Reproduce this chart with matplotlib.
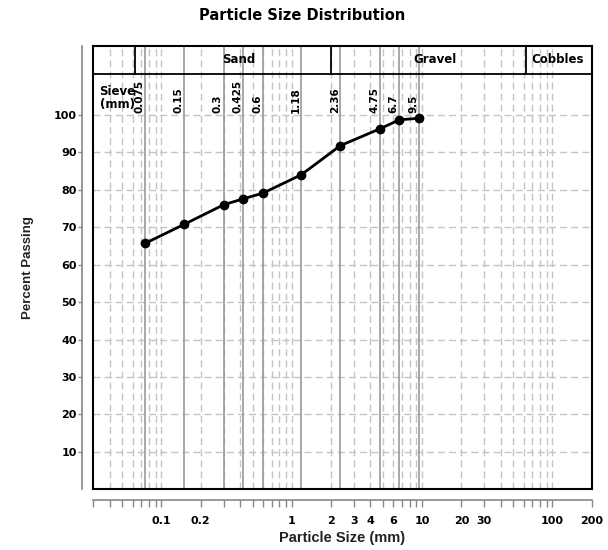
import matplotlib
matplotlib.use('Agg')
import matplotlib.pyplot as plt
import numpy as np

# sieve data
sieve_mm = [0.075, 0.15, 0.3, 0.425, 0.6, 1.18, 2.36, 4.75, 6.7, 9.5]
sieve_labels = ['0.075', '0.15', '0.3', '0.425', '0.6', '1.18', '2.36', '4.75', '6.7', '9.5']
percent_passing = [65.7, 70.8, 76.0, 77.6, 79.1, 84.0, 91.8, 96.3, 98.7, 99.1]

# soil classes (BS limits)
class_bounds = [0.063, 2, 63]
class_names = ['Sand', 'Gravel', 'Cobbles']
class_label_x = [0.39, 12.6, 110]

xtick_vals = [0.1, 0.2, 1, 2, 3, 4, 6, 10, 20, 30, 100, 200]
xtick_labels = ['0.1', '0.2', '1', '2', '3', '4', '6', '10', '20', '30', '100', '200']
ytick_vals = [10, 20, 30, 40, 50, 60, 70, 80, 90, 100]

xmin, xmax = 0.03, 200
ymax = 118.5
band_y = 110.9

fig = plt.figure(figsize=(6.08, 5.5), dpi=100, facecolor='w')
ax = fig.add_axes([0.1535, 0.1104, 0.8197, 0.8066])
ax.set_xscale('log')
ax.set_xlim(xmin, xmax)
ax.set_ylim(0, ymax)

# grid lines
minor = [m * 10.0 ** e for e in range(-2, 3) for m in range(1, 10)]
minor = [v for v in minor if xmin < v < xmax]
for v in minor:
    ax.axvline(v, color='#c4c4c4', lw=1, ls=(0, (5, 3)), zorder=1)
for v in ytick_vals:
    ax.axhline(v, color='#c4c4c4', lw=1, ls=(0, (5, 3)), zorder=1)

# sieve lines + labels
for s, lab in zip(sieve_mm, sieve_labels):
    ax.axvline(s, color='#999999', lw=1.2, zorder=2)
    ax.annotate(lab, (s, 100.6), xytext=(-0.5, 0), textcoords='offset points',
                rotation=90, ha='right', va='bottom', fontsize=7.5,
                fontweight='bold', zorder=4)

ax.plot(sieve_mm, percent_passing, '-o', color='k', lw=2, ms=6, zorder=5)

# header band
ax.axhline(band_y, color='k', lw=1.3, zorder=3)
for b in class_bounds:
    ax.plot([b, b], [band_y, ymax], color='k', lw=1.3, zorder=3)
for name, xl in zip(class_names, class_label_x):
    ax.text(xl, (band_y + ymax) / 2, name, ha='center', va='center',
            fontsize=8.5, fontweight='bold', zorder=4)
ax.text(0.0335, 108.1, 'Sieve\n(mm)', ha='left', va='top', fontsize=8.5,
        fontweight='bold', linespacing=1.0, zorder=4)

# box and offset axes
for side in ['top', 'right']:
    ax.spines[side].set_color('k')
    ax.spines[side].set_linewidth(1.5)
for side in ['left', 'bottom']:
    ax.spines[side].set_position(('outward', 8))
    ax.spines[side].set_color('#888888')
    ax.spines[side].set_linewidth(1.2)
ax.plot([0, 0], [0, 1], transform=ax.transAxes, color='k', lw=1.5, clip_on=False, zorder=6)
ax.plot([0, 1], [0, 0], transform=ax.transAxes, color='k', lw=1.5, clip_on=False, zorder=6)

ax.set_yticks(ytick_vals)
ax.set_yticklabels([str(v) for v in ytick_vals], fontsize=8, fontweight='bold')
ax.set_xticks(xtick_vals)
ax.set_xticklabels(xtick_labels, fontsize=8, fontweight='bold')
ax.set_xticks([v for v in minor if v not in xtick_vals] + [xmin], minor=True)
ax.tick_params(axis='y', length=3, width=1, color='#888888', pad=1)
ax.tick_params(axis='x', which='both', length=5, width=1, color='#888888', pad=6)
ax.tick_params(axis='x', which='minor', labelbottom=False)

ax.set_xlabel('Particle Size (mm)', fontsize=10.5, family='Liberation Sans',
              fontweight='bold', color='#222222', labelpad=4)
ax.set_ylabel('Percent Passing', fontsize=9.5, family='Liberation Sans',
              fontweight='bold', color='#222222', labelpad=14)
fig.suptitle('Particle Size Distribution', fontsize=10.5, fontweight='bold', x=0.497, y=0.985)

plt.savefig('out.png', dpi=100)
